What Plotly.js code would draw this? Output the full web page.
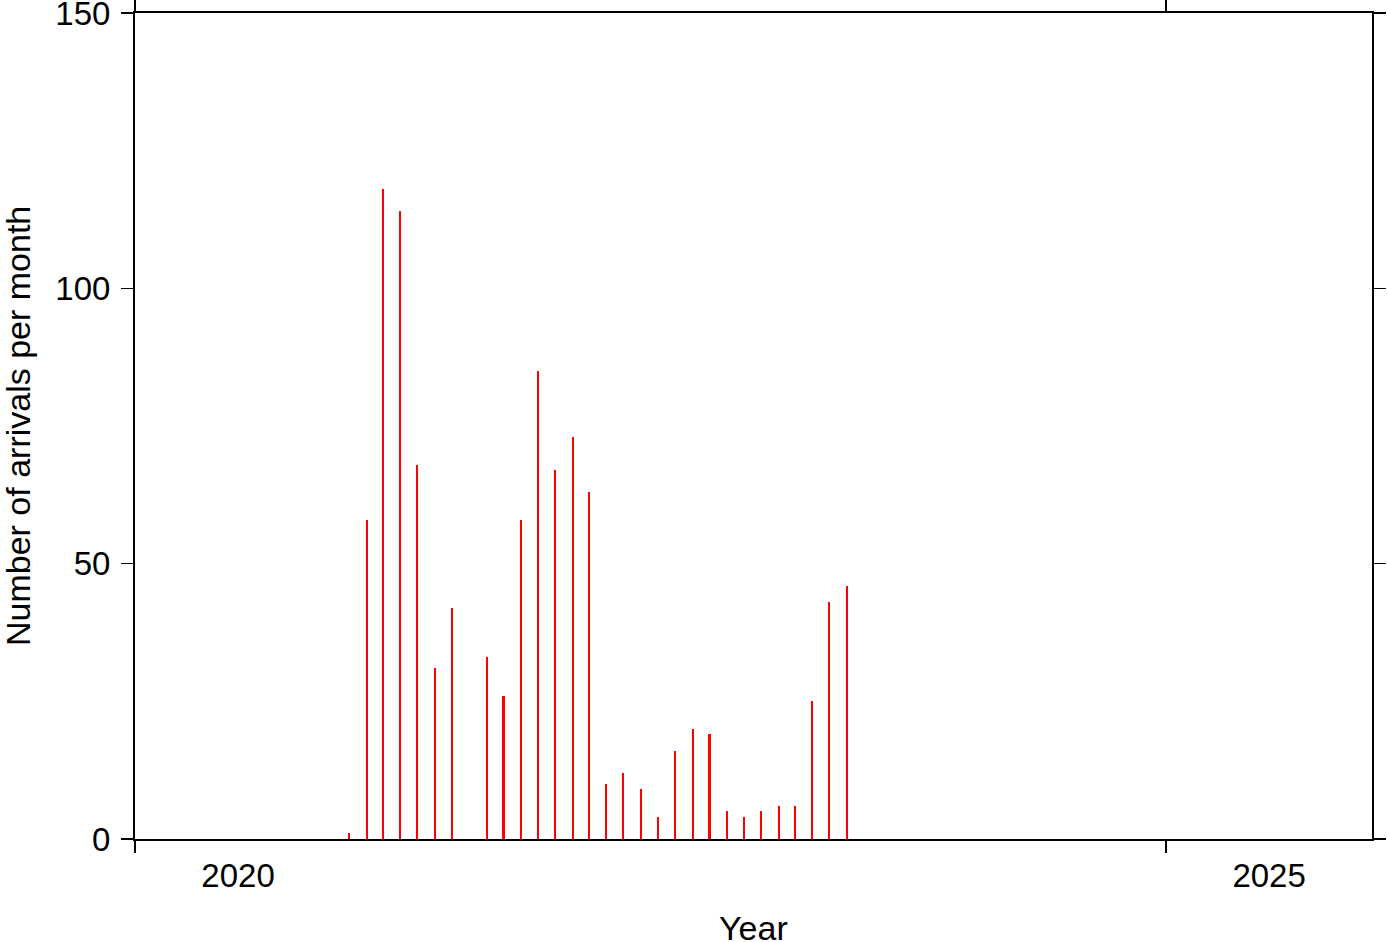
<!DOCTYPE html>
<html>
<head>
<meta charset="utf-8">
<script src="https://cdn.plot.ly/plotly-3.0.1.min.js"></script>
<style>html,body{margin:0;padding:0;background:#fff;}#chart{width:1387px;height:942px;}</style>
</head>
<body>
<div id="chart"></div>
<script>
// Monthly arrivals (bar placed mid-month)
const months = [
  "2021-01-15","2021-02-15","2021-03-15","2021-04-15","2021-05-15","2021-06-15",
  "2021-07-15","2021-08-15","2021-09-15","2021-10-15","2021-11-15","2021-12-15",
  "2022-01-15","2022-02-15","2022-03-15","2022-04-15","2022-05-15","2022-06-15",
  "2022-07-15","2022-08-15","2022-09-15","2022-10-15","2022-11-15","2022-12-15",
  "2023-01-15","2023-02-15","2023-03-15","2023-04-15","2023-05-15","2023-06-15"
];
const arrivals = [
  1, 58, 118, 114, 68, 31,
  42, 0, 33, 26, 58, 85,
  67, 73, 63, 10, 12, 9,
  4, 16, 20, 19, 5, 4,
  5, 6, 6, 25, 43, 46
];
const yTicks = [0, 50, 100, 150];
const xRange = ["2020-01-01", "2026-01-01"];
const xTitle = "Year";
const yTitle = "Number of arrivals per month";
const DAY = 86400000;

const font = {family: "Liberation Sans, Arial, Helvetica, sans-serif", color: "#000"};

const trace = {
  type: "bar",
  x: months,
  y: arrivals,
  width: months.map(() => 3.6 * DAY),
  marker: {color: "#ff0000", line: {width: 0, color: "#ff0000"}},
  hoverinfo: "x+y"
};

const layout = {
  width: 1387, height: 942,
  margin: {l: 135, r: 15, t: 13, b: 103},
  paper_bgcolor: "#fff", plot_bgcolor: "#fff",
  showlegend: false,
  font: Object.assign({size: 33}, font),
  xaxis: {
    type: "date",
    range: xRange,
    tick0: "2020-01-01",
    dtick: "M60",
    tickformat: "%Y",
    ticklabelmode: "period",
    ticks: "outside", ticklen: 12, tickwidth: 1.3, tickcolor: "#000",
    showline: true, linewidth: 2, linecolor: "#000", mirror: "allticks",
    showgrid: false, zeroline: false,
    ticklabelstandoff: -6,
    ticklabeloverflow: "allow",
    tickfont: Object.assign({size: 33}, font),
    automargin: false
  },
  yaxis: {
    range: [0, 150],
    tickvals: yTicks,
    ticktext: yTicks.map(String),
    ticks: "outside", ticklen: 12, tickwidth: 1.3, tickcolor: "#000",
    showline: true, linewidth: 2, linecolor: "#000", mirror: "allticks",
    showgrid: false, zeroline: false,
    ticklabelstandoff: 4,
    ticklabeloverflow: "allow",
    tickfont: Object.assign({size: 33}, font),
    automargin: false
  },
  annotations: [
    {text: xTitle, xref: "paper", yref: "paper", x: 0.5, y: 0,
     xanchor: "center", yanchor: "top", yshift: -68, showarrow: false,
     font: Object.assign({size: 34}, font)},
    {text: yTitle, xref: "paper", yref: "paper", x: 0, y: 0.5, textangle: -90,
     xanchor: "center", yanchor: "middle", xshift: -117, showarrow: false,
     font: Object.assign({size: 34}, font)}
  ],
  bargap: 0
};

Plotly.newPlot("chart", [trace], layout, {staticPlot: true, displayModeBar: false});
</script>
</body>
</html>
